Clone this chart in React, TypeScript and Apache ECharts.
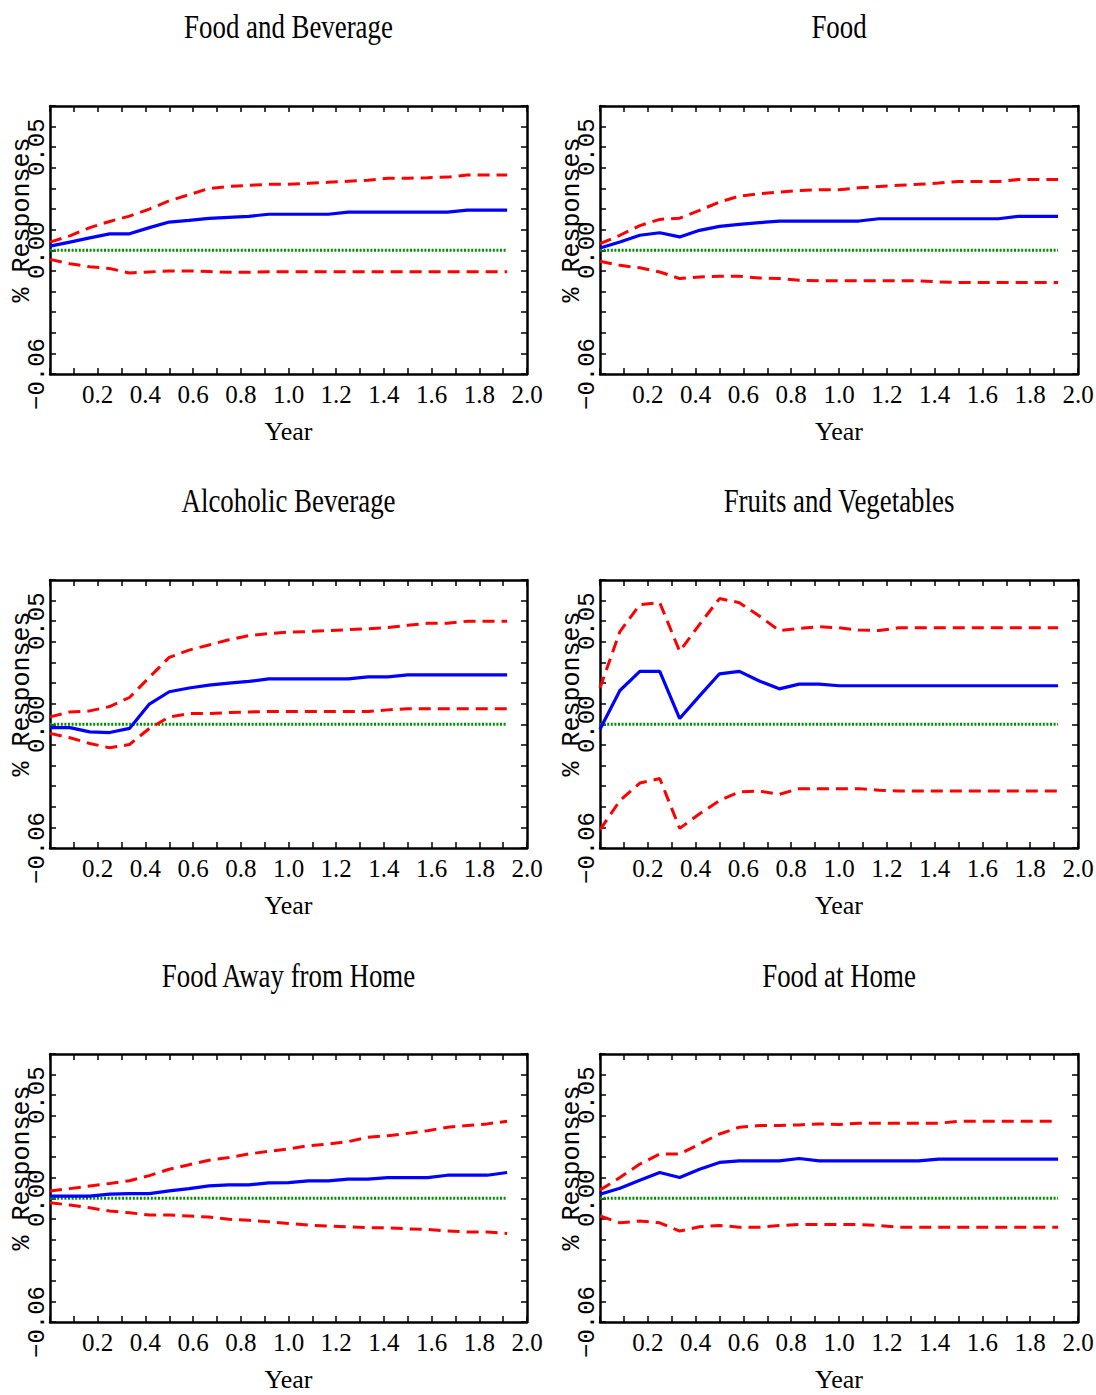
import React, { useEffect, useRef } from "react";
import * as echarts from "echarts";

// Horizon in months (plotted in years)
const MONTHS = [0, 1, 2, 3, 4, 5, 6, 7, 8, 9, 10, 11, 12, 13, 14, 15, 16, 17, 18, 19, 20, 21, 22, 23];

const TITLES = [
  "Food and Beverage",
  "Food",
  "Alcoholic Beverage",
  "Fruits and Vegetables",
  "Food Away from Home",
  "Food at Home",
];

// Food and Beverage
const FB_IRF = [0.002, 0.004, 0.006, 0.008, 0.008, 0.011, 0.0137, 0.0145, 0.0155, 0.016, 0.0165, 0.0175, 0.0175, 0.0175, 0.0175, 0.0185, 0.0185, 0.0185, 0.0185, 0.0185, 0.0185, 0.0195, 0.0195, 0.0195];
const FB_UP = [0.004, 0.007, 0.011, 0.014, 0.0166, 0.02, 0.024, 0.027, 0.03, 0.031, 0.0315, 0.032, 0.032, 0.0325, 0.033, 0.0335, 0.034, 0.035, 0.035, 0.0352, 0.0355, 0.0365, 0.0365, 0.0365];
const FB_LO = [-0.0044, -0.0065, -0.008, -0.0088, -0.011, -0.0105, -0.01, -0.01, -0.0103, -0.0107, -0.0107, -0.0104, -0.0104, -0.0104, -0.0104, -0.0104, -0.0104, -0.0104, -0.0104, -0.0104, -0.0104, -0.0104, -0.0104, -0.0104];

// Food
const F_IRF = [0.0011, 0.004, 0.0073, 0.0085, 0.0065, 0.0097, 0.0116, 0.0126, 0.0134, 0.0142, 0.0142, 0.0142, 0.0142, 0.0142, 0.0153, 0.0153, 0.0153, 0.0153, 0.0153, 0.0153, 0.0153, 0.0165, 0.0165, 0.0165];
const F_UP = [0.0032, 0.0073, 0.012, 0.015, 0.0156, 0.0194, 0.0234, 0.0263, 0.0274, 0.0282, 0.029, 0.0294, 0.0294, 0.0303, 0.031, 0.0315, 0.032, 0.0326, 0.0334, 0.0334, 0.0334, 0.0343, 0.0343, 0.0343];
const F_LO = [-0.0053, -0.0073, -0.0085, -0.0105, -0.0137, -0.0129, -0.0126, -0.0126, -0.0134, -0.0137, -0.0145, -0.0148, -0.0148, -0.0148, -0.0148, -0.0148, -0.0148, -0.0153, -0.0156, -0.0156, -0.0156, -0.0156, -0.0156, -0.0156];

// Alcoholic Beverage
const AB_IRF = [-0.0016, -0.0016, -0.0037, -0.004, -0.002, 0.0098, 0.0158, 0.0176, 0.019, 0.02, 0.0208, 0.022, 0.022, 0.022, 0.022, 0.022, 0.023, 0.023, 0.024, 0.024, 0.024, 0.024, 0.024, 0.024];
const AB_UP = [0.0036, 0.006, 0.0065, 0.0086, 0.013, 0.0228, 0.0325, 0.036, 0.0385, 0.041, 0.043, 0.044, 0.0447, 0.045, 0.0455, 0.0459, 0.0463, 0.047, 0.048, 0.049, 0.049, 0.05, 0.05, 0.05];
const AB_LO = [-0.0044, -0.0065, -0.0093, -0.0114, -0.0098, -0.002, 0.0036, 0.0052, 0.0052, 0.0057, 0.006, 0.0062, 0.0062, 0.0062, 0.0062, 0.0062, 0.0062, 0.007, 0.0076, 0.0076, 0.0076, 0.0076, 0.0076, 0.0076];

// Fruits and Vegetables
const FV_IRF = [-0.0024, 0.0164, 0.0257, 0.0257, 0.0028, 0.0138, 0.0245, 0.0257, 0.021, 0.0172, 0.0195, 0.0195, 0.0187, 0.0187, 0.0187, 0.0187, 0.0187, 0.0187, 0.0187, 0.0187, 0.0187, 0.0187, 0.0187, 0.0187];
const FV_UP = [0.0176, 0.045, 0.058, 0.059, 0.0354, 0.0485, 0.061, 0.059, 0.0525, 0.0455, 0.0465, 0.0473, 0.0468, 0.0457, 0.0455, 0.0468, 0.0468, 0.0468, 0.0468, 0.0468, 0.0468, 0.0468, 0.0468, 0.0468];
const FV_LO = [-0.0512, -0.037, -0.0285, -0.0263, -0.0505, -0.0434, -0.037, -0.0328, -0.0324, -0.034, -0.0312, -0.0312, -0.0312, -0.0312, -0.032, -0.0324, -0.0324, -0.0324, -0.0324, -0.0324, -0.0324, -0.0324, -0.0324, -0.0324];

// Food Away from Home
const FA_IRF = [0.0011, 0.0011, 0.0011, 0.002, 0.0023, 0.0023, 0.0036, 0.0047, 0.006, 0.0065, 0.0065, 0.0075, 0.0076, 0.0085, 0.0085, 0.0093, 0.0093, 0.01, 0.01, 0.01, 0.0112, 0.0112, 0.0112, 0.0125];
const FA_UP = [0.0036, 0.0047, 0.006, 0.0072, 0.0085, 0.011, 0.0141, 0.0163, 0.0185, 0.0198, 0.0215, 0.0228, 0.024, 0.0255, 0.0263, 0.0275, 0.0296, 0.0304, 0.0315, 0.0328, 0.0345, 0.0353, 0.0361, 0.0374];
const FA_LO = [-0.0021, -0.0033, -0.0046, -0.0062, -0.007, -0.0081, -0.0081, -0.0086, -0.0091, -0.0102, -0.0107, -0.0114, -0.0122, -0.013, -0.0135, -0.0138, -0.0143, -0.0143, -0.0148, -0.0151, -0.0159, -0.0163, -0.0163, -0.0171];

// Food at Home
const FH_IRF = [0.002, 0.0049, 0.0088, 0.0125, 0.0101, 0.0141, 0.0174, 0.0182, 0.0182, 0.0182, 0.0193, 0.0182, 0.0182, 0.0182, 0.0182, 0.0182, 0.0182, 0.019, 0.019, 0.019, 0.019, 0.019, 0.019, 0.019];
const FH_UP = [0.004, 0.0101, 0.0166, 0.0215, 0.0215, 0.0263, 0.0312, 0.0345, 0.0353, 0.0353, 0.0356, 0.0361, 0.0358, 0.0364, 0.0364, 0.0364, 0.0364, 0.0364, 0.0374, 0.0374, 0.0374, 0.0374, 0.0374, 0.0374];
const FH_LO = [-0.0086, -0.0119, -0.011, -0.0119, -0.0159, -0.0138, -0.0132, -0.014, -0.014, -0.0132, -0.0127, -0.0127, -0.0127, -0.0127, -0.0132, -0.014, -0.014, -0.014, -0.014, -0.014, -0.014, -0.014, -0.014, -0.014];

const ZERO = [0, 0, 0, 0, 0, 0, 0, 0, 0, 0, 0, 0, 0, 0, 0, 0, 0, 0, 0, 0, 0, 0, 0, 0];

const IRFS = [FB_IRF, F_IRF, AB_IRF, FV_IRF, FA_IRF, FH_IRF];
const UPPERS = [FB_UP, F_UP, AB_UP, FV_UP, FA_UP, FH_UP];
const LOWERS = [FB_LO, F_LO, AB_LO, FV_LO, FA_LO, FH_LO];

const Y_MIN = -0.06;
const Y_MAX = 0.07;
const Y_STEP = 0.01;
const X_MIN = 0;
const X_MAX = 2;
const X_STEP = 0.1;

const MONO = "Liberation Mono";
const SERIF = "Liberation Serif";

function toPairs(vals: number[]) {
  return MONTHS.map((m, i) => [m / 12, vals[i]]);
}

function xLabel(v: number) {
  const t = Math.round(v * 10);
  return t > 0 && t % 2 === 0 ? (t / 10).toFixed(1) : "";
}

function yLabel(v: number) {
  const t = Math.round(v * 100);
  if (t === -6) return "\u22120.06";
  if (t === 0) return "0.00";
  if (t === 5) return "0.05";
  return "";
}

export default function App() {
  const ref = useRef<HTMLDivElement>(null);

  useEffect(() => {
    if (!ref.current) return;
    const chart = echarts.init(ref.current, null, { renderer: "svg" });

    const colLeft = [50, 600];
    const colWidth = [477, 478];
    const rowTop = [106, 580, 1054];
    const plotH = 268;
    const titleY = [27, 501, 976];

    const grids: any[] = [];
    const xAxes: any[] = [];
    const yAxes: any[] = [];
    const series: any[] = [];
    const graphics: any[] = [];

    const lineStyleAxis = { color: "#000", width: 2.5 };
    const tickStyle = { inside: true, length: 6, lineStyle: { color: "#000", width: 1.5 } };

    TITLES.forEach((title, i) => {
      const col = i % 2;
      const row = Math.floor(i / 2);
      grids.push({
        left: colLeft[col],
        top: rowTop[row],
        width: colWidth[col],
        height: plotH,
        containLabel: false,
        outerBoundsMode: "none",
      });
      const xb = xAxes.length;
      xAxes.push({
        type: "value",
        gridIndex: i,
        position: "bottom",
        min: X_MIN,
        max: X_MAX,
        interval: X_STEP,
        axisLine: { show: true, onZero: false, lineStyle: lineStyleAxis },
        axisTick: tickStyle,
        splitLine: { show: false },
        axisLabel: {
          formatter: xLabel,
          fontFamily: SERIF,
          fontSize: 25,
          color: "#000",
          margin: 8,
        },
        name: "Year",
        nameLocation: "middle",
        nameGap: 44,
        nameMoveOverlap: false,
        nameTextStyle: { fontFamily: SERIF, fontSize: 26, color: "#000" },
      });
      xAxes.push({
        type: "value",
        gridIndex: i,
        position: "top",
        min: X_MIN,
        max: X_MAX,
        interval: X_STEP,
        axisLine: { show: true, onZero: false, lineStyle: lineStyleAxis },
        axisTick: tickStyle,
        splitLine: { show: false },
        axisLabel: { show: false },
      });
      const yl = yAxes.length;
      yAxes.push({
        type: "value",
        gridIndex: i,
        position: "left",
        min: Y_MIN,
        max: Y_MAX,
        interval: Y_STEP,
        axisLine: { show: true, onZero: false, lineStyle: lineStyleAxis },
        axisTick: tickStyle,
        splitLine: { show: false },
        axisLabel: {
          formatter: yLabel,
          rotate: 90,
          fontFamily: MONO,
          fontSize: 24,
          color: "#000",
          margin: 1,
        },
        name: "% Responses",
        nameLocation: "middle",
        nameRotate: 90,
        nameGap: 15,
        nameMoveOverlap: false,
        nameTextStyle: {
          fontFamily: MONO,
          fontSize: 25,
          color: "#000",
          padding: [0, 0, 0, 40],
        },
      });
      yAxes.push({
        type: "value",
        gridIndex: i,
        position: "right",
        min: Y_MIN,
        max: Y_MAX,
        interval: Y_STEP,
        axisLine: { show: true, onZero: false, lineStyle: lineStyleAxis },
        axisTick: tickStyle,
        splitLine: { show: false },
        axisLabel: { show: false },
      });

      const common = {
        type: "line",
        xAxisIndex: xb,
        yAxisIndex: yl,
        symbol: "none",
        silent: true,
        animation: false,
      };
      series.push({
        ...common,
        name: "zero",
        data: toPairs(ZERO),
        lineStyle: { color: "#009000", width: 3, type: [2, 1.6] },
      });
      series.push({
        ...common,
        name: "upper",
        data: toPairs(UPPERS[i]),
        lineStyle: { color: "#ff0000", width: 3, type: [12, 7] },
      });
      series.push({
        ...common,
        name: "lower",
        data: toPairs(LOWERS[i]),
        lineStyle: { color: "#ff0000", width: 3, type: [12, 7] },
      });
      series.push({
        ...common,
        name: "response",
        data: toPairs(IRFS[i]),
        lineStyle: { color: "#0000ff", width: 3.2 },
      });

      graphics.push({
        type: "text",
        x: colLeft[col] + colWidth[col] / 2,
        y: titleY[row],
        scaleX: 0.79,
        style: {
          text: title,
          fontFamily: SERIF,
          fontSize: 34,
          fill: "#000",
          align: "center",
          verticalAlign: "middle",
        },
      });
    });

    chart.setOption({
      animation: false,
      backgroundColor: "#fff",
      grid: grids,
      xAxis: xAxes,
      yAxis: yAxes,
      series,
      graphic: graphics,
    });

    return () => chart.dispose();
  }, []);

  return (
    <div
      ref={ref}
      style={{ position: "absolute", left: 0, top: 0, width: 1096, height: 1395 }}
    />
  );
}
